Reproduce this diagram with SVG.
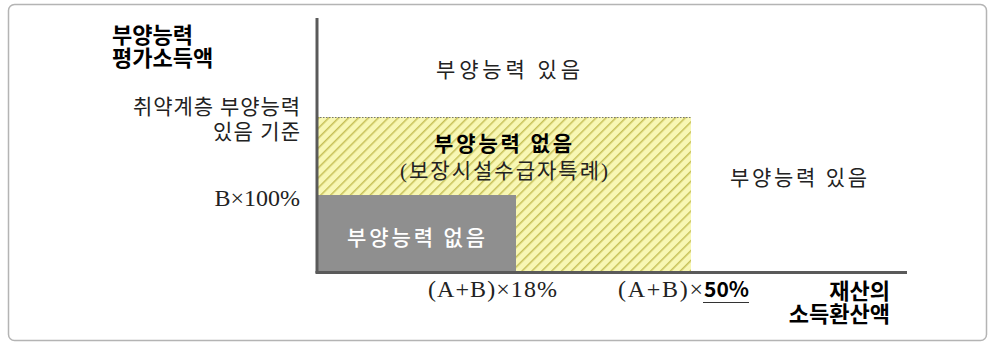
<svg xmlns="http://www.w3.org/2000/svg" width="990" height="345" viewBox="0 0 990 345">
<defs>
<pattern id="hatch" width="7" height="7" patternUnits="userSpaceOnUse" patternTransform="rotate(45)">
<rect width="7" height="7" fill="#f8f7b4"/>
<rect x="0" y="0" width="1.5" height="7" fill="#c6c057"/>
</pattern>
</defs>
<style>
.reg{font-family:"Liberation Serif","Noto Sans CJK KR",serif;font-size:21px;fill:#222;}
.lat{font-family:"Liberation Serif","Noto Sans CJK KR",serif;font-size:24px;fill:#222;}
.bold{font-family:"Noto Sans CJK KR","Noto Sans",sans-serif;font-weight:bold;font-size:21px;fill:#000;}
.ax{stroke:#5a5a5a;stroke-width:3;fill:none;}
</style>
<rect x="8.5" y="4.5" width="978" height="336" rx="6" fill="#fff" stroke="#b4b4b4" stroke-width="1.5"/>
<g id="region-hatch">
<rect x="317" y="117" width="374" height="156" fill="url(#hatch)"/>
<line x1="317" y1="117.5" x2="691" y2="117.5" stroke="#777" stroke-width="1" stroke-dasharray="1.5,1.5"/>
<text class="bold" x="434" y="151" textLength="138" lengthAdjust="spacing">부양능력 없음</text>
<text class="reg" x="400" y="178" textLength="208" lengthAdjust="spacing">(보장시설수급자특례)</text>
</g>
<g id="region-gray">
<rect x="317" y="195" width="199" height="78" fill="#8f8f8f"/>
<text x="347" y="245" font-family="Noto Sans CJK KR, sans-serif" font-size="21" font-weight="500" fill="#fff" textLength="138" lengthAdjust="spacing">부양능력 없음</text>
</g>
<g id="connectors">
<line class="ax" x1="317" y1="18" x2="317" y2="273"/>
<line class="ax" x1="315.5" y1="272.5" x2="907" y2="272.5"/>
</g>
<g id="label-yaxis">
<text class="bold" font-size="22" style="font-size:22px"><tspan x="112" y="43">부양능력</tspan><tspan x="112" y="66">평가소득액</tspan></text>
</g>
<g id="label-threshold">
<text class="reg" x="133" y="114" textLength="167" lengthAdjust="spacing">취약계층 부양능력</text>
<text class="reg" x="213" y="139" textLength="87" lengthAdjust="spacing">있음 기준</text>
</g>
<g id="label-b100">
<text class="lat" x="300" y="206" text-anchor="end">B×100%</text>
</g>
<g id="region-top">
<text class="reg" x="436" y="77" textLength="144" lengthAdjust="spacing">부양능력 있음</text>
</g>
<g id="region-right">
<text class="reg" x="730" y="185" textLength="137" lengthAdjust="spacing">부양능력 있음</text>
</g>
<g id="label-18">
<text class="lat" x="428" y="297" textLength="129" lengthAdjust="spacing">(A+B)×18%</text>
</g>
<g id="label-50">
<text class="lat" x="618" y="297" textLength="85" lengthAdjust="spacing">(A+B)×</text>
<text class="bold" x="704" y="297" textLength="45" lengthAdjust="spacing">50%</text>
<line x1="703" y1="302.5" x2="749" y2="302.5" stroke="#333" stroke-width="1.2"/>
</g>
<g id="label-xaxis">
<text class="bold" text-anchor="end" style="font-size:22px"><tspan x="890" y="299">재산의</tspan><tspan x="890" y="322">소득환산액</tspan></text>
</g>
</svg>
